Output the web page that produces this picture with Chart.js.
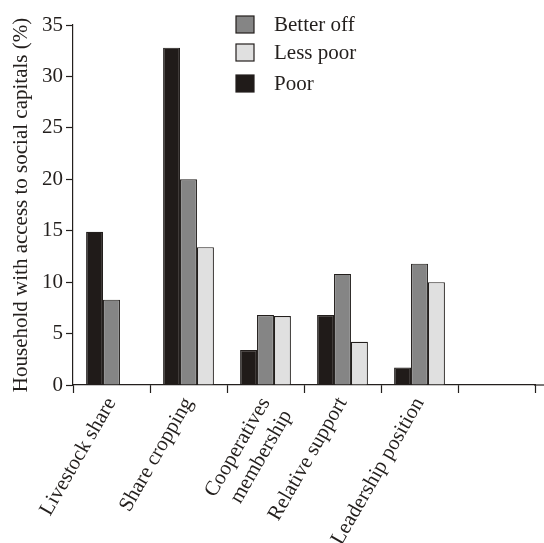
<!DOCTYPE html>
<html>
<head>
  <title>Household access to social capitals</title>
  <script src="https://cdn.jsdelivr.net/npm/chart.js"></script>
  <style>
    body {
      margin: 0;
      background-color: #fff;
    }
    #wrap {
      width: 544px;
      height: 543px;
    }
  </style>
</head>
<body>
  <div id="wrap"><canvas id="capitalChart" width="544" height="543"></canvas></div>

  <script>
    const categories = ['Livestock share', 'Share cropping', ['Cooperatives', 'membership'], 'Relative support', 'Leadership position', ''];
    const poor = [14.9, 32.8, 3.4, 6.8, 1.7, null];
    const betterOff = [8.3, 20.0, 6.8, 10.8, 11.8, null];
    const lessPoor = [null, 13.4, 6.7, 4.2, 10.0, null];
    const yTicks = [0, 5, 10, 15, 20, 25, 30, 35];
    const legendOrder = ['Better off', 'Less poor', 'Poor'];

    const serif = '"Liberation Serif", "Times New Roman", "DejaVu Serif", serif';
    const ink = '#231f1d';

    // legend drawn inside the plot, top right, in its own order
    const boxLegend = {
      id: 'boxLegend',
      afterDraw(chart) {
        const ctx = chart.ctx;
        ctx.save();
        ctx.font = '21px ' + serif;
        ctx.textBaseline = 'middle';
        const rows = [24.5, 52.5, 83.5];
        legendOrder.forEach((name, i) => {
          const ds = chart.data.datasets.find(d => d.label === name);
          ctx.fillStyle = ds.backgroundColor;
          ctx.strokeStyle = ink;
          ctx.lineWidth = 1.2;
          ctx.fillRect(236, rows[i] - 8.5, 18, 17);
          ctx.strokeRect(236, rows[i] - 8.5, 18, 17);
          ctx.fillStyle = ink;
          ctx.fillText(name, 274, rows[i] + 1);
        });
        // the x axis line runs on past the last slot
        const a = chart.chartArea;
        ctx.strokeStyle = ink;
        ctx.lineWidth = 1.2;
        ctx.beginPath();
        ctx.moveTo(a.right - 1, a.bottom);
        ctx.lineTo(chart.width, a.bottom);
        ctx.stroke();
        ctx.restore();
      }
    };

    const ctx = document.getElementById('capitalChart').getContext('2d');
    new Chart(ctx, {
      type: 'bar',
      data: {
        labels: categories,
        datasets: [
          { label: 'Poor', data: poor, backgroundColor: '#201b19' },
          { label: 'Better off', data: betterOff, backgroundColor: '#858585' },
          { label: 'Less poor', data: lessPoor, backgroundColor: '#e0e0e0' }
        ].map(d => Object.assign(d, {
          borderColor: ink,
          borderWidth: 1.2,
          borderSkipped: 'bottom',
          categoryPercentage: 0.66,
          barPercentage: 1.0
        }))
      },
      options: {
        responsive: false,
        animation: false,
        layout: { padding: { top: 25, right: 9, left: 0, bottom: 0 } },
        plugins: {
          legend: { display: false },
          tooltip: { enabled: false }
        },
        scales: {
          x: {
            grid: {
              offset: true,
              drawOnChartArea: false,
              tickLength: 8,
              tickColor: ink,
              tickWidth: 1.2
            },
            border: { color: ink, width: 1.2 },
            ticks: {
              color: ink,
              font: { family: serif, size: 21 },
              minRotation: 60,
              maxRotation: 60,
              padding: 0,
              autoSkip: false
            },
            afterFit(scale) { scale.height = 158; }
          },
          y: {
            min: 0,
            max: 35,
            afterBuildTicks(scale) {
              scale.ticks = yTicks.map(v => ({ value: v }));
            },
            grid: {
              drawOnChartArea: false,
              tickLength: 7,
              tickColor: ink,
              tickWidth: 1.2
            },
            border: { color: ink, width: 1.2 },
            ticks: {
              color: ink,
              font: { family: serif, size: 21 },
              padding: 3
            },
            title: {
              display: true,
              text: 'Household with access to social capitals (%)',
              color: ink,
              font: { family: serif, size: 21 },
              padding: { top: 9, bottom: 0 }
            },
            afterFit(scale) { scale.width = 73; }
          }
        }
      },
      plugins: [boxLegend]
    });
  </script>
</body>
</html>
